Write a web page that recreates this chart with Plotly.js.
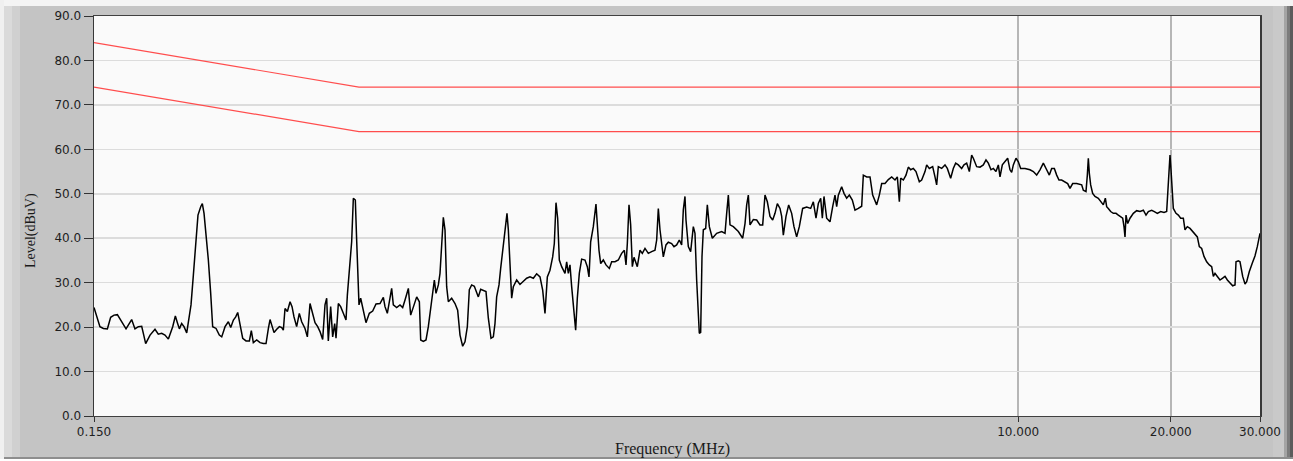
<!DOCTYPE html>
<html>
<head>
<meta charset="utf-8">
<script src="https://cdn.plot.ly/plotly-3.0.1.min.js"></script>
<style>html,body{margin:0;padding:0;background:#fff;}#chart{width:1293px;height:461px;}</style>
</head>
<body>
<div id="chart"></div>
<script>
// Measured spectrum: frequency (MHz) and level (dBuV)
var freqMHz = [
0.1500,0.1518,0.1541,0.1565,0.1594,0.1618,0.1643,0.1668,0.1701,0.1735,
0.1780,0.1807,0.1835,0.1863,0.1877,0.1897,0.1935,0.1979,0.2009,0.2040,
0.2071,0.2103,0.2145,0.2171,0.2191,0.2211,0.2234,0.2258,0.2286,0.2313,
0.2331,0.2356,0.2385,0.2406,0.2436,0.2454,0.2473,0.2495,0.2522,0.2549,
0.2572,0.2612,0.2651,0.2680,0.2721,0.2762,0.2792,0.2826,0.2856,0.2882,
0.2913,0.2948,0.2993,0.3039,0.3066,0.3094,0.3142,0.3190,0.3238,0.3278,
0.3313,0.3338,0.3363,0.3399,0.3441,0.3483,0.3520,0.3546,0.3573,0.3612,
0.3656,0.3689,0.3722,0.3767,0.3813,0.3854,0.3913,0.3955,0.4003,0.4045,
0.4095,0.4145,0.4189,0.4240,0.4285,0.4318,0.4350,0.4397,0.4437,0.4478,
0.4505,0.4553,0.4601,0.4657,0.4714,0.4743,0.4786,0.4837,0.4874,0.4918,
0.4948,0.4971,0.5001,0.5039,0.5085,0.5162,0.5241,0.5322,0.5403,
0.5502,0.5586,0.5628,0.5688,0.5758,0.5801,0.5845,0.5935,0.6025,0.6099,
0.6164,0.6258,0.6325,0.6402,0.6500,0.6579,0.6619,0.6699,0.6781,0.6853,
0.6927,0.6990,0.7043,0.7096,0.7172,0.7226,0.7281,0.7336,0.7392,0.7448,
0.7505,0.7620,0.7736,0.7830,0.7914,0.8010,0.8095,0.8182,0.8256,0.8345,
0.8446,0.8536,0.8601,0.8693,0.8799,0.8906,0.9001,0.9111,0.9208,0.9277,
0.9348,0.9448,0.9520,0.9635,0.9709,0.9797,0.9857,0.9932,1.0008,1.0083,
1.0238,1.0393,1.0552,1.0713,1.0877,1.1043,1.1212,1.1383,1.1522,1.1644,
1.1768,1.1911,1.2057,1.2148,1.2241,1.2334,1.2427,1.2560,1.2752,1.2849,
1.2946,1.3044,1.3144,1.3284,1.3385,1.3486,1.3609,1.3755,1.3965,1.4113,
1.4221,1.4329,1.4503,1.4680,1.4769,1.4882,1.4996,1.5178,1.5363,1.5598,
1.5765,1.6005,1.6249,1.6497,1.6698,1.6825,1.6927,1.7056,1.7185,1.7316,
1.7448,1.7580,1.7713,1.7929,1.8120,1.8342,1.8621,1.8906,1.9194,1.9341,
1.9487,1.9635,1.9784,1.9934,2.0177,2.0392,2.0704,2.0925,2.1180,2.1438,
2.1667,2.1831,2.1997,2.2098,2.2333,2.2572,2.2846,2.3020,2.3195,2.3371,
2.3477,
2.3622,2.3765,2.3909,2.4165,2.4347,2.4570,2.4907,2.5403,2.5987,2.6385,
2.6585,2.6787,2.6990,2.7402,2.8032,2.8590,2.8895,2.9115,2.9336,2.9559,
3.0009,3.0468,3.0932,3.1310,3.1643,3.1980,3.2370,3.2765,3.3114,3.3467,
3.3876,3.4134,3.4391,3.4811,3.5235,3.5717,3.6098,3.6538,3.6982,3.7548,
3.8239,3.8941,3.9414,3.9895,4.0320,4.0752,4.1060,4.1372,4.1877,4.2515,
4.3035,4.3493,4.3823,4.4155,4.4831,4.5308,4.5861,4.6418,4.7054,4.7631,
4.8357,4.9096,4.9468,5.0225,5.0991,5.1612,5.2559,5.3198,5.3768,5.4587,
5.5421,5.6268,5.7126,5.7735,5.8263,5.8616,5.9329,6.0050,6.0690,6.1338,
6.2085,6.2841,6.3801,6.4484,6.5466,6.5964,6.6765,6.7785,6.8507,6.9027,
6.9550,7.0613,7.1691,7.2454,7.3562,7.4451,7.5255,7.6170,7.7334,7.8158,
7.9110,8.0075,8.0932,8.1543,8.2791,8.4050,8.5333,8.6374,8.7294,8.8359,
8.9301,9.0390,9.1353,9.2049,9.3030,9.4166,9.5313,9.6329,9.7064,9.7797,
9.8991,10.005,10.111,10.313,
10.549,10.710,10.874,11.040,11.208,11.379,11.518,11.641,11.783,11.909,
12.035,12.182,12.368,12.519,12.652,12.807,13.042,13.341,13.442,13.606,
13.689,13.751,13.814,13.898,14.025,14.174,14.390,14.566,14.721,14.856,
14.946,15.059,15.220,15.405,15.594,15.760,15.928,16.074,16.171,16.245,
16.319,16.443,16.618,16.872,17.129,17.391,17.656,17.871,18.062,18.338,
18.561,18.815,19.103,19.394,19.631,19.720,19.840,19.930,20.021,20.112,
20.234,20.481,20.699,20.920,21.175,21.336,21.563,21.827,22.092,22.328,
22.566,22.772,23.015,23.260,23.544,23.831,24.086,24.268,24.453,24.714,
25.015,25.320,25.590,25.862,26.178,26.498,26.780,26.902,27.189,27.395,
27.729,28.025,28.238,28.581,28.973,29.322,29.635,30.000
];
var levelDBuV = [
24.4,22.3,20.1,19.7,19.6,22.2,22.7,22.8,21.2,19.6,
21.7,19.6,20.1,20.2,18.6,16.3,18.2,19.5,18.4,18.6,
18.2,17.3,20.1,22.5,21.0,19.6,20.8,20.1,18.7,22.3,
25.0,31.7,38.8,45.2,47.1,47.8,45.6,41.5,35.1,27.6,
20.1,19.7,18.2,17.8,20.1,21.2,19.9,21.6,22.3,23.3,
20.1,17.5,16.9,16.9,19.2,16.5,17.1,16.5,16.3,16.3,
19.7,21.7,20.5,18.8,19.5,20.1,19.9,19.3,24.2,23.5,
25.7,24.6,22.3,20.1,23.1,21.2,19.7,17.8,25.3,23.5,
21.0,20.1,19.0,17.2,25.0,26.5,16.9,24.6,17.8,20.8,
17.5,25.3,24.6,23.1,21.6,27.2,32.8,39.2,49.0,48.6,
39.6,30.6,25.0,26.5,24.6,21.0,23.1,23.6,25.2,
25.3,26.7,24.6,23.1,27.2,28.7,25.0,24.4,25.0,24.4,
26.1,28.7,22.7,24.6,26.8,25.7,17.1,16.8,17.1,20.1,
24.6,27.6,30.6,27.6,29.5,32.1,38.1,44.7,41.9,29.1,
25.7,26.5,25.3,23.8,18.2,15.7,16.7,20.1,28.4,29.5,
29.2,28.0,26.8,28.5,28.3,28.0,22.0,17.5,17.8,20.8,
26.8,29.5,33.2,38.1,42.6,45.6,41.9,34.3,26.5,29.1,
30.6,29.6,30.2,31.0,31.3,31.0,32.0,31.3,28.3,23.1,
31.3,32.8,35.8,38.8,48.0,44.5,35.1,33.6,32.1,34.7,
32.1,34.0,29.1,23.1,19.3,26.5,32.1,35.3,35.1,33.6,
31.3,39.2,42.6,47.7,42.6,37.3,34.3,35.1,34.0,33.2,
34.7,34.7,35.1,36.6,37.3,34.0,38.8,47.5,43.0,33.6,
35.7,34.7,33.6,37.3,36.6,37.7,36.6,37.0,37.3,39.6,
46.7,41.9,38.5,35.8,38.5,39.1,38.8,38.1,38.5,39.6,
38.5,46.4,49.4,44.1,38.1,37.0,42.6,41.1,30.6,22.4,
18.6,
18.8,35.9,41.9,42.2,47.5,42.6,40.0,41.1,41.5,41.1,
45.6,49.7,43.0,42.6,41.5,40.0,43.3,47.5,49.7,43.0,
44.2,44.1,43.0,43.0,49.7,48.2,44.9,44.1,45.6,47.8,
46.7,44.9,40.7,44.9,47.5,45.6,42.6,40.3,42.6,46.7,
47.0,46.7,48.2,44.5,47.8,49.0,44.5,49.4,44.5,43.7,
47.1,49.7,47.1,49.7,51.6,50.1,49.0,49.7,48.6,46.3,
46.7,47.2,54.2,53.8,53.8,49.7,47.5,49.7,52.3,52.3,
53.2,53.8,53.1,53.8,48.2,53.5,53.1,54.2,56.0,55.4,
55.7,55.0,52.7,53.1,55.0,56.5,55.7,56.1,53.8,52.0,
56.1,55.7,56.5,55.7,53.5,55.7,56.9,56.5,55.7,56.5,
56.9,55.0,58.7,58.0,56.1,56.0,56.5,57.6,56.9,55.4,
55.7,55.0,56.5,53.8,56.5,57.2,58.0,55.4,54.8,56.5,
58.0,57.2,55.7,55.7,
55.4,55.0,54.2,55.4,56.9,55.4,54.2,55.7,55.7,54.2,
53.1,53.1,52.7,52.3,51.2,52.3,52.3,52.0,50.8,50.5,
54.2,58.0,54.6,52.0,50.1,49.4,49.0,48.2,47.5,49.0,
47.1,46.7,46.0,45.6,45.6,45.2,44.9,44.5,42.6,40.3,
45.2,43.3,44.5,45.6,46.2,46.0,46.3,45.2,46.0,46.3,
46.0,45.6,46.0,45.8,46.0,49.4,55.4,58.7,55.4,50.1,
46.7,45.6,45.2,44.5,44.5,41.9,42.6,42.2,41.5,40.7,
40.3,38.1,37.7,35.9,34.7,34.0,33.6,31.4,32.1,31.4,
30.6,31.0,31.4,30.6,29.9,29.3,29.5,34.7,34.9,34.7,
31.4,29.7,30.2,32.5,34.4,36.0,38.1,41.1
];

// Limit lines
var limitFreq = [0.15, 0.5, 30];
var limitUpper = [84, 74, 74];
var limitLower = [74, 64, 64];

// Axis ticks
var xTickVals = [0.15, 10, 20, 30];
var xTickText = ['0.150', '10.000', '20.000', '30.000'];

var traces = [
  {x: limitFreq, y: limitUpper, type: 'scatter', mode: 'lines',
   line: {color: '#ff4d4d', width: 1.2}, hoverinfo: 'skip', showlegend: false},
  {x: limitFreq, y: limitLower, type: 'scatter', mode: 'lines',
   line: {color: '#ff4d4d', width: 1.2}, hoverinfo: 'skip', showlegend: false},
  {x: freqMHz, y: levelDBuV, type: 'scatter', mode: 'lines',
   line: {color: '#000000', width: 1.5}, showlegend: false}
];

// frame geometry helpers (paper coords)
var L = 94, R = 1260, T = 16, B = 416;
function px(x) { return (x - L) / (R - L); }
function py(y) { return (B - y) / (B - T); }
function rect(x0, x1, y0, y1, c) {
  return {type: 'rect', xref: 'paper', yref: 'paper', layer: 'below',
          x0: px(x0), x1: px(x1), y0: py(y1), y1: py(y0),
          fillcolor: c, line: {width: 0}};
}

var shapes = [
  rect(0, 1293, 0, 6, '#f4f4f4'),
  rect(0, 4, 0, 461, '#f0f0f0'),
  rect(4, 12, 6, 458, '#dadada'),
  rect(12, 20, 6, 458, '#d0d0d0'),
  rect(1273, 1284, 6, 458, '#c9c9c9'),
  rect(1284, 1287, 6, 458, '#a4a4a4'),
  rect(1287, 1290, 6, 458, '#7c7c7c'),
  rect(1290, 1293, 6, 458, '#5c5c5c'),
  rect(4, 1293, 457, 459, '#8e8e8e'),
  rect(0, 1293, 459, 461, '#ffffff')
];

var layout = {
  width: 1293, height: 461, autosize: false,
  margin: {l: L, r: 1293 - R, t: T, b: 461 - B, pad: 0},
  paper_bgcolor: '#c4c4c4',
  plot_bgcolor: '#fafafa',
  showlegend: false,
  xaxis: {
    type: 'log',
    range: [Math.log10(0.15), Math.log10(30)],
    tickmode: 'array', tickvals: xTickVals, ticktext: xTickText,
    ticks: 'outside', ticklen: 5, tickwidth: 1, tickcolor: '#333',
    showgrid: true, gridcolor: '#b6b6b6', gridwidth: 1.5,
    showline: true, mirror: true, linecolor: '#404040', linewidth: 1,
    zeroline: false,
    tickfont: {family: 'DejaVu Sans', size: 12, color: '#1e1e1e'}
  },
  yaxis: {
    range: [0, 90], tick0: 0, dtick: 10, tickformat: '.1f',
    ticks: 'outside', ticklen: 9, tickwidth: 1, tickcolor: '#333',
    showgrid: true, gridcolor: '#dcdcdc', gridwidth: 1.5,
    showline: true, mirror: true, linecolor: '#383838', linewidth: 1.5,
    zeroline: false,
    tickfont: {family: 'DejaVu Sans', size: 12, color: '#1e1e1e'}
  },
  shapes: shapes,
  annotations: [
    {text: 'Frequency (MHz)', xref: 'paper', yref: 'paper',
     x: px(672), y: py(449), xanchor: 'center', yanchor: 'middle', showarrow: false,
     font: {family: 'Liberation Serif', size: 16, color: '#1a1a1a'}},
    {text: 'Level(dBuV)', xref: 'paper', yref: 'paper', textangle: -90,
     x: px(31), y: py(231), xanchor: 'center', yanchor: 'middle', showarrow: false,
     font: {family: 'Liberation Serif', size: 14, color: '#1a1a1a'}}
  ]
};

Plotly.newPlot('chart', traces, layout, {staticPlot: true, displayModeBar: false});
</script>
</body>
</html>
